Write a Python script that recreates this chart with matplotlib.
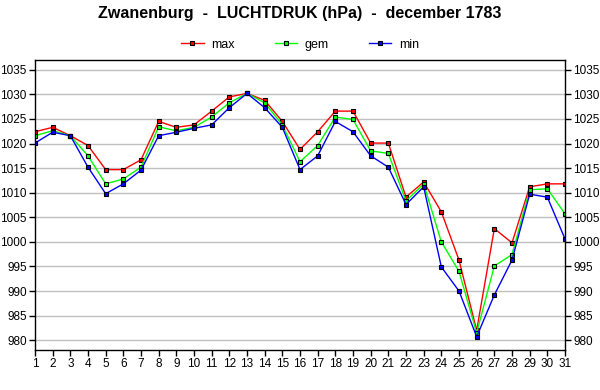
import matplotlib
matplotlib.use('Agg')
import matplotlib.pyplot as plt
import numpy as np

plt.rcParams['font.family'] = ['Liberation Sans', 'DejaVu Sans']

days = list(range(1, 32))
p_max = [1022.4, 1023.3, 1021.6, 1019.6, 1014.7, 1014.7, 1016.7, 1024.5, 1023.3, 1023.8,
         1026.6, 1029.5, 1030.2, 1028.8, 1024.5, 1018.8, 1022.4, 1026.6, 1026.6, 1020.1,
         1020.1, 1009.1, 1012.2, 1006.1, 996.3, 982.0, 1002.7, 999.8, 1011.2, 1011.8, 1011.8]
p_gem = [1021.6, 1022.6, 1021.6, 1017.5, 1011.8, 1012.8, 1015.2, 1023.4, 1022.6, 1023.3,
         1025.4, 1028.3, 1030.2, 1028.3, 1023.8, 1016.3, 1019.6, 1025.4, 1024.9, 1018.5,
         1018.0, 1008.3, 1011.8, 1000.0, 994.0, 981.5, 995.1, 997.4, 1010.6, 1010.8, 1005.7]
p_min = [1020.1, 1022.3, 1021.6, 1015.2, 1009.8, 1011.8, 1014.6, 1021.6, 1022.3, 1023.1,
         1023.8, 1027.3, 1030.2, 1027.3, 1023.3, 1014.7, 1017.5, 1024.5, 1022.4, 1017.5,
         1015.2, 1007.6, 1011.2, 994.9, 990.0, 980.7, 989.2, 996.3, 1009.7, 1009.1, 1000.6]
y_ticks = list(range(980, 1036, 5))

series = [('max', p_max, '#ff0000'), ('gem', p_gem, '#00ff00'), ('min', p_min, '#0000ff')]

fig = plt.figure(figsize=(6, 3.9), dpi=100)
ax = fig.add_axes([35/600, 40/390, 530/600, 290/390])

for name, vals, col in series:
    ax.plot(days, vals, color=col, linewidth=1, marker='s', markersize=3.5,
            markerfacecolor=col, markeredgecolor='black', markeredgewidth=0.8, label=name)

ax.set_xlim(1, 31)
ax.set_ylim(978, 1037)
ax.set_xticks(days)
ax.set_yticks(y_ticks)
ax.yaxis.grid(True, color='#c0c0c0', linewidth=1)
ax.set_axisbelow(True)
ax.tick_params(axis='both', direction='out', length=4, width=1, labelsize=8.5, pad=2)
ax.tick_params(axis='y', left=True, right=True, labelleft=True, labelright=True)
for s in ax.spines.values():
    s.set_linewidth(1)
    s.set_color('black')

fig.suptitle('Zwanenburg  -  LUCHTDRUK (hPa)  -  december 1783', x=0.5, y=0.985,
             fontsize=11.5, fontweight='bold')
fig.legend(loc='center', bbox_to_anchor=(0.5, 0.885), ncol=3, frameon=False,
           fontsize=9, handlelength=1.8, columnspacing=3.2, handletextpad=0.6,
           markerscale=0.85)

plt.savefig('out.png', dpi=100)
